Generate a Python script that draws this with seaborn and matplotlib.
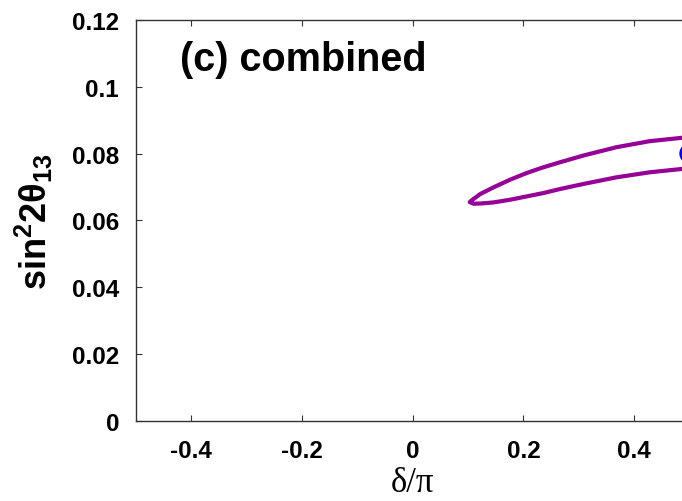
import matplotlib
matplotlib.use("Agg")
import matplotlib.pyplot as plt
import seaborn as sns
import pandas as pd

# Allowed region contour in the (delta/pi, sin^2 2theta13) plane:
# upper branch from the left tip outwards, then the lower branch back out.
upper_delta = [0.103, 0.108, 0.122, 0.146, 0.176, 0.206, 0.236, 0.266, 0.308, 0.368, 0.428, 0.486, 0.505]
upper_s13 = [0.0655, 0.0662, 0.0679, 0.0699, 0.0722, 0.0742, 0.0759, 0.0774, 0.0794, 0.0819, 0.0837, 0.0847, 0.0850]
lower_delta = [0.110, 0.125, 0.146, 0.176, 0.206, 0.236, 0.266, 0.308, 0.368, 0.428, 0.486, 0.505]
lower_s13 = [0.0650, 0.0651, 0.0654, 0.0662, 0.0672, 0.0682, 0.0694, 0.0709, 0.0729, 0.0744, 0.0754, 0.0757]

# Best-fit point
best_delta = [0.5]
best_s13 = [0.080]

xticks = [-0.4, -0.2, 0, 0.2, 0.4]
xticklabels = ["-0.4", "-0.2", "0", "0.2", "0.4"]
yticks = [0, 0.02, 0.04, 0.06, 0.08, 0.1, 0.12]
yticklabels = ["0", "0.02", "0.04", "0.06", "0.08", "0.1", "0.12"]

sns.set_theme(style="white")
plt.rcParams["font.family"] = ["Liberation Sans", "DejaVu Sans"]
plt.rcParams["mathtext.fontset"] = "custom"
plt.rcParams["mathtext.rm"] = "Liberation Sans:bold"
plt.rcParams["mathtext.it"] = "Liberation Sans:bold"
plt.rcParams["mathtext.bf"] = "Liberation Sans:bold"
for key in ["text.color", "axes.labelcolor", "xtick.color", "ytick.color"]:
    plt.rcParams[key] = "black"

contour = pd.DataFrame({
    "delta": upper_delta[::-1] + lower_delta,
    "s13": upper_s13[::-1] + lower_s13,
})
best = pd.DataFrame({"delta": best_delta, "s13": best_s13})

fig = plt.figure(figsize=(6.82, 5.02), dpi=100)
ax = fig.add_axes([0.199, 0.1588, 0.8122, 0.800])

sns.lineplot(data=contour, x="delta", y="s13", sort=False, estimator=None,
             color="#960096", linewidth=3.0, ax=ax)
sns.scatterplot(data=best, x="delta", y="s13", color="#0000ff", s=220,
                edgecolor="none", ax=ax, zorder=3)

ax.set_xlim(-0.5, 0.5)
ax.set_ylim(0, 0.12)
ax.set_xticks(xticks)
ax.set_xticklabels(xticklabels, fontsize=17.5, fontweight="bold")
ax.set_yticks(yticks)
ax.set_yticklabels(yticklabels, fontsize=17.5, fontweight="bold")
ax.tick_params(axis="both", direction="in", length=4.5, width=0.8, color="#333333",
               top=True, right=True, bottom=True, left=True)
ax.tick_params(axis="x", pad=13)
ax.tick_params(axis="y", pad=12)
for sp in ax.spines.values():
    sp.set_visible(True)
    sp.set_color("#333333")
    sp.set_linewidth(1.0)

ax.set_xlabel("δ/π", fontsize=25, family=["Liberation Serif", "DejaVu Serif"])
ax.xaxis.set_label_coords(0.5, -0.112)
ax.set_ylabel(r"$\mathrm{sin^{2}2\theta_{13}}$", fontsize=26)
ax.yaxis.set_label_coords(-0.145, 0.5)

ax.text(-0.42, 0.1083, "(c) combined", fontsize=28.5, fontweight="bold",
        ha="left", va="center")

fig.savefig("out.png", dpi=100)
